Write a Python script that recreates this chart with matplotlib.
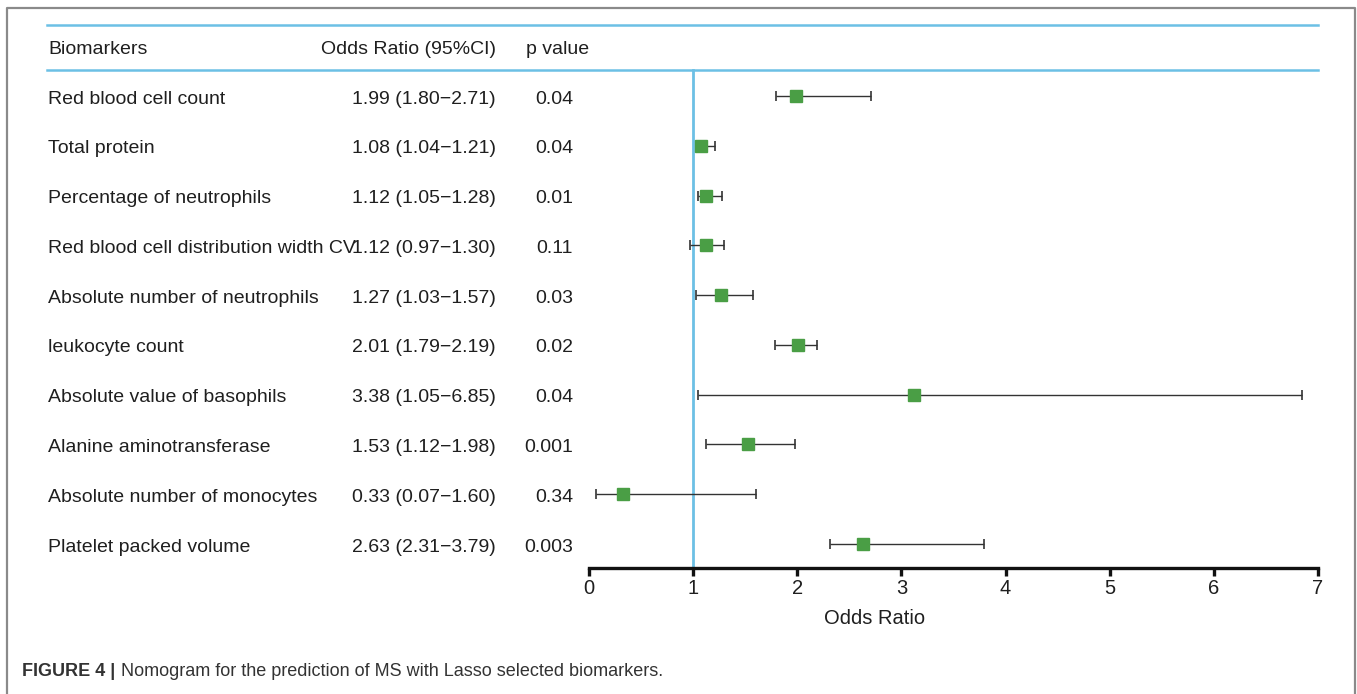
import matplotlib
matplotlib.use("Agg")
import matplotlib.pyplot as plt
from matplotlib import font_manager
from matplotlib.lines import Line2D
import matplotlib.transforms as mtransforms

# ---------------- data ----------------
biomarkers = [
    "Red blood cell count",
    "Total protein",
    "Percentage of neutrophils",
    "Red blood cell distribution width CV",
    "Absolute number of neutrophils",
    "leukocyte count",
    "Absolute value of basophils",
    "Alanine aminotransferase",
    "Absolute number of monocytes",
    "Platelet packed volume",
]
or_reported = [1.99, 1.08, 1.12, 1.12, 1.27, 2.01, 3.38, 1.53, 0.33, 2.63]
ci_low = [1.80, 1.04, 1.05, 0.97, 1.03, 1.79, 1.05, 1.12, 0.07, 2.31]
ci_high = [2.71, 1.21, 1.28, 1.30, 1.57, 2.19, 6.85, 1.98, 1.60, 3.79]
or_plotted = [1.99, 1.08, 1.12, 1.12, 1.27, 2.01, 3.12, 1.53, 0.33, 2.63]
p_values = ["0.04", "0.04", "0.01", "0.11", "0.03", "0.02", "0.04", "0.001", "0.34", "0.003"]
x_ticks = [0, 1, 2, 3, 4, 5, 6, 7]
headers = ["Biomarkers", "Odds Ratio (95%CI)", "p value"]
x_label = "Odds Ratio"
caption_bold = "FIGURE 4 |"
caption_text = "Nomogram for the prediction of MS with Lasso selected biomarkers."

# ---------------- fonts ----------------
avail = {f.name for f in font_manager.fontManager.ttflist}
MAIN = "Liberation Sans" if "Liberation Sans" in avail else "DejaVu Sans"
NARROW = "Liberation Sans Narrow" if "Liberation Sans Narrow" in avail else MAIN

W, H = 1357, 694
fig = plt.figure(figsize=(W / 100, H / 100), dpi=100)
fig.patch.set_facecolor("white")

def fx(px):
    return px / W

def fy(py):
    return 1 - py / H

BLUE = "#6CC0E5"
GREEN = "#4A9E45"
TXT = "#1f1f1f"

# main axes: x 0..7 at px 589..1318, y rows, top px 70, bottom px 568
ax_left, ax_right, ax_top, ax_bot = 589, 1318, 70, 568
ax = fig.add_axes([fx(ax_left), fy(ax_bot), fx(ax_right) - fx(ax_left), (ax_bot - ax_top) / H])
row_px = 49.78
first_row_px = 96
ylim_top = 1 - (first_row_px - ax_top) / row_px
ylim_bot = 1 + (ax_bot - first_row_px) / row_px
ax.set_xlim(0, 7)
ax.set_ylim(ylim_bot, ylim_top)
ax.patch.set_visible(False)
for s in ["top", "right", "left"]:
    ax.spines[s].set_visible(False)
ax.spines["bottom"].set_linewidth(2.4)
ax.spines["bottom"].set_color("#111111")
ax.set_yticks([])
ax.set_xticks(x_ticks)
ax.set_xticklabels([str(t) for t in x_ticks], fontfamily=NARROW, fontsize=14.5, color=TXT)
ax.tick_params(axis="x", direction="out", length=6, width=2.4, color="#111111", pad=2)

rows = list(range(1, len(biomarkers) + 1))

# reference line at 1
ax.plot([1, 1], [ylim_bot, ylim_top], color=BLUE, lw=2.0, zorder=1, clip_on=False)

# error bars and squares
xerr = [[o - l for o, l in zip(or_plotted, ci_low)], [h - o for o, h in zip(or_plotted, ci_high)]]
ax.errorbar(or_plotted, rows, xerr=xerr, fmt="none", ecolor="#333333", elinewidth=1.0,
            capsize=3.6, capthick=1.2, zorder=2)
ax.plot(or_plotted, rows, linestyle="none", marker="s", markersize=8.2,
        markerfacecolor=GREEN, markeredgecolor=GREEN, zorder=3)

# table text (shifted down 3 px so glyphs centre on the row)
trans = mtransforms.blended_transform_factory(fig.transFigure, ax.transData) + \
    mtransforms.ScaledTranslation(0, -3 / 100, fig.dpi_scale_trans)
fs = 14
kw = dict(transform=trans, va="center", fontsize=fs, fontfamily=MAIN, color=TXT, clip_on=False)
ax.text(fx(48), 0, headers[0], ha="left", **kw)
ax.text(fx(496), 0, headers[1], ha="right", **kw)
ax.text(fx(526), 0, headers[2], ha="left", **kw)
for r, name, o, l, h, p in zip(rows, biomarkers, or_reported, ci_low, ci_high, p_values):
    ax.text(fx(48), r, name, ha="left", **kw)
    ax.text(fx(496), r, f"{o:.2f} ({l:.2f}\u2212{h:.2f})", ha="right", **kw)
    ax.text(fx(573), r, p, ha="right", **kw)

# horizontal blue lines
fig.add_artist(Line2D([fx(47), fx(1318)], [fy(25), fy(25)], color=BLUE, lw=1.8))
fig.add_artist(Line2D([fx(47), fx(1318)], [fy(70), fy(70)], color=BLUE, lw=1.8))

# x label
fig.text(fx(875), fy(618), x_label, ha="center", va="center", fontsize=14.5,
         fontfamily=NARROW, color=TXT)

# border (left, top, right)
fig.add_artist(Line2D([fx(7), fx(7), fx(1355), fx(1355)], [0, fy(8), fy(8), 0],
                      color="#8a8a8a", lw=1.6))

# caption
cap1 = fig.text(fx(22), fy(672), caption_bold, ha="left", va="center", fontsize=13,
                fontfamily=NARROW, fontweight="bold", color="#333333")
fig.canvas.draw()
bb = cap1.get_window_extent(fig.canvas.get_renderer())
fig.text((bb.x1 + 6) / W, fy(672), caption_text, ha="left", va="center", fontsize=13,
         fontfamily=NARROW, color="#333333")

fig.savefig("out.png", dpi=100, facecolor="white")
